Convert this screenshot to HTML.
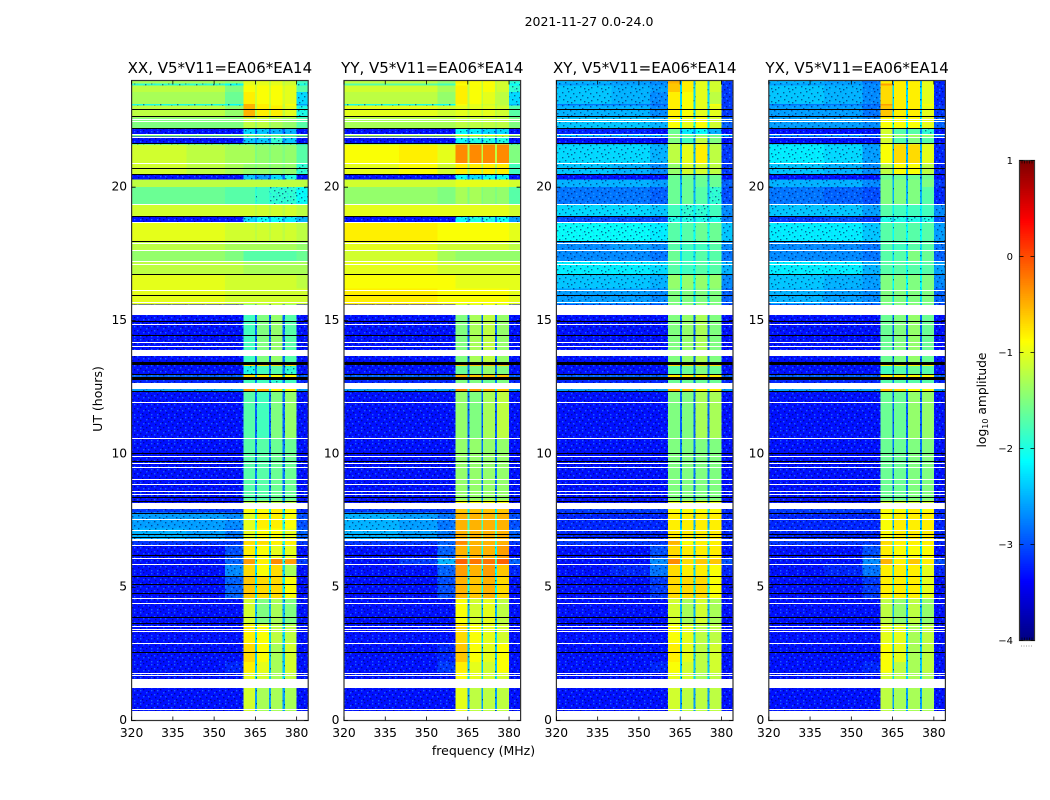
<!DOCTYPE html>
<html lang="en">
<head>
<meta charset="utf-8">
<title>2021-11-27 0.0-24.0</title>
<style>
html,body{margin:0;padding:0;background:#fff;}
svg{display:block;font-family:"DejaVu Sans","Liberation Sans",sans-serif;fill:#000;}
</style>
</head>
<body>
<svg id="figure" xmlns="http://www.w3.org/2000/svg" width="1050" height="800" viewBox="0 0 1050 800">
  <defs>
    <pattern id="speckle" patternUnits="userSpaceOnUse" width="17" height="13">
      <g fill="#000050" fill-opacity="0.55">
        <rect x="1" y="1" width="1.4" height="1.4"/><rect x="7" y="0" width="1.4" height="1.4"/><rect x="12" y="2" width="1.4" height="1.4"/>
        <rect x="4" y="4" width="1.4" height="1.4"/><rect x="15" y="5" width="1.4" height="1.4"/><rect x="9" y="6" width="1.4" height="1.4"/>
        <rect x="2" y="8" width="1.4" height="1.4"/><rect x="13" y="9" width="1.4" height="1.4"/><rect x="6" y="10" width="1.4" height="1.4"/><rect x="10" y="11" width="1.4" height="1.4"/>
      </g>
      <g fill="#30b0ff" fill-opacity="0.5">
        <rect x="4" y="1" width="1.4" height="1.4"/><rect x="10" y="3" width="1.4" height="1.4"/><rect x="15" y="1" width="1.4" height="1.4"/>
        <rect x="1" y="5" width="1.4" height="1.4"/><rect x="7" y="7" width="1.4" height="1.4"/><rect x="12" y="7" width="1.4" height="1.4"/>
        <rect x="4" y="11" width="1.4" height="1.4"/><rect x="15" y="11" width="1.4" height="1.4"/>
      </g>
    </pattern>
  </defs>
  <rect x="0" y="0" width="1050" height="800" fill="#fff"/>
  <text x="589" y="26" font-size="12.5" text-anchor="middle">2021-11-27 0.0-24.0</text>
  <text x="483.5" y="755" font-size="12.5" text-anchor="middle">frequency (MHz)</text>
  <text transform="translate(102,399) rotate(-90)" font-size="12.5" text-anchor="middle">UT (hours)</text>
  <text transform="translate(986,400) rotate(-90)" font-size="12.3" text-anchor="middle">log<tspan font-size="8" dy="2">10</tspan><tspan dy="-2"> amplitude</tspan></text>
  <g id="panels"></g>
  <g id="colorbar"></g>
</svg>
<script>
// Frequency channel groups (MHz) and which value column each group reads.
const freqEdges = [320,340,354,360.6,364.9,365.6,369.9,370.6,374.9,375.7,380,384.2];
const freqColumns = [0,1,2,3,7,4,7,5,7,6,8];
const freqTicks = [320,335,350,365,380];
const hourTicks = [0,5,10,15,20];
const colorTicks = [1,0,-1,-2,-3,-4];
const colorTickLabels = ['1','0','\u22121','\u22122','\u22123','\u22124'];
const panelTitles = ['XX, V5*V11=EA06*EA14','YY, V5*V11=EA06*EA14','XY, V5*V11=EA06*EA14','YX, V5*V11=EA06*EA14'];

// Time sections, hours from the top of the plot down.
const hourEdges = [24,23.88,23.81,23.56,23.12,23.06,22.62,22.225,22,21.9,21.66,21.6,20.9,20.5,20.29,20,19.375,18.9,18.7,17.98,17.65,17.2,16.75,16.2,15.6,13.44,13.3,12.97,12.85,12.44,12.34,10.6,8.25,7.95,7.8,7.2,6.75,6.6,6.1,5.86,5.42,4.6,3.6,2.9,2.2,1.8,1.22,0];

// Hours with no data (white) and flagged lines (black).
const gapStart = [22.56,22.5,22,21.9,20.9,19.375,18.69,17.9,17.65,17.225,17.125,16.15,15.69,15.6,14.86,14.175,14.06,13.91,13.85,12.65,11.96,10.6,9.92,9.64,9.52,9.06,8.86,8.61,8.5,8.16,7.55,7.15,6.81,6.59,6.09,5.86,4.58,4.39,3.55,3.44,3.36,2.91,1.78,1.7,1.54,0.45,0.34];
const gapEnd =   [22.52,22.46,21.96,21.86,20.86,19.335,18.65,17.86,17.61,17.185,17.085,16.11,15.65,15.22,14.82,14.135,14.02,13.87,13.65,12.44,11.92,10.56,9.88,9.6,9.48,9.02,8.82,8.57,8.46,7.95,7.51,7.11,6.75,6.55,6.05,5.82,4.54,4.35,3.51,3.4,3.32,2.87,1.74,1.66,1.22,0.41,0];
const flagStart = [22.95,22.67,22.235,21.67,20.735,20.51,18.91,17.985,16.76,15.97,14.99,14.46,13.44,12.99,12.9,12.34,10.03,9.75,8.39,8.22,7.79,6.99,6.9,6.21,5.42,5.11,4.79,3.89,3.64,2.58];
const flagEnd =   [22.925,22.645,22.21,21.645,20.71,20.485,18.885,17.96,16.735,15.945,14.965,14.435,13.32,12.965,12.8,12.315,10.005,9.725,8.34,8.195,7.765,6.965,6.875,6.185,5.395,5.085,4.765,3.865,3.615,2.555];

// log10 amplitude x10, one line per time section.
// Columns: 320-340, 340-354, 354-360, band A, band B, band C, band D, notches, above 380.
const xxValues = [
[-13,-13,-14,-10,-10,-10,-11,-12,-18],[-19,-19,-21,-10,-10,-10,-11,-12,-20],[-12,-12,-15,-9,-9,-9,-10,-11,-17],[-13,-13,-16,-8,-9,-9,-10,-11,-23],[-20,-20,-21,-5,-8,-9,-9,-12,-26],
[-12,-12,-14,-5,-8,-8,-10,-12,-20],[-15,-15,-15,-12,-12,-13,-14,-14,-17],[-33,-33,-33,-23,-24,-25,-25,-29,-33],[-15,-15,-15,-14,-15,-15,-15,-15,-15],[-33,-33,-33,-24,-24,-19,-24,-27,-33],
[-21,-21,-21,-19,-19,-20,-21,-23,-25],[-11,-12,-13,-13,-14,-14,-14,-15,-17],[-11,-12,-13,-14,-14,-14,-14,-15,-19],[-33,-33,-33,-24,-26,-23,-20,-29,-33],[-12,-12,-12,-12,-12,-12,-12,-12,-12],
[-16,-16,-17,-17,-18,-19,-19,-19,-21],[-11,-11,-11,-11,-11,-11,-11,-12,-12],[-33,-33,-33,-23,-21,-21,-22,-25,-25],[-10,-10,-11,-11,-11,-11,-11,-12,-12],[-12,-12,-13,-13,-13,-13,-13,-13,-14],
[-14,-14,-15,-17,-17,-17,-17,-17,-16],[-12,-12,-12,-13,-13,-13,-13,-13,-13],[-10,-10,-11,-11,-11,-11,-11,-11,-12],[-10,-10,-11,-11,-11,-11,-11,-11,-11],[-33,-33,-33,-18,-15,-14,-17,-29,-33],
[-33,-33,-33,-7,-7,-7,-7,-29,-33],[-33,-33,-33,-20,-18,-17,-19,-28,-33],[-29,-29,-29,-7,-8,-9,-9,-24,-29],[-32,-32,-32,-18,-18,-19,-18,-28,-32],[-26,-26,-26,-4,-5,-8,-9,-20,-26],
[-33,-33,-33,-17,-18,-15,-14,-29,-33],[-33,-33,-33,-17,-17,-16,-16,-28,-33],[-33,-33,-33,-12,-12,-12,-12,-25,-33],[-31,-31,-31,-9,-9,-8,-9,-22,-32],[-26,-26,-27,-10,-8,-8,-9,-20,-30],
[-25,-26,-28,-10,-9,-9,-10,-18,-29],[-31,-31,-31,-7,-7,-8,-8,-20,-31],[-33,-33,-30,-8,-9,-10,-10,-23,-33],[-33,-33,-29,-4,-8,-3,-4,-20,-31],[-33,-33,-27,-7,-9,-7,-13,-23,-33],
[-33,-33,-29,-6,-7,-7,-9,-22,-33],[-33,-33,-33,-11,-15,-13,-15,-25,-33],[-33,-33,-33,-8,-9,-12,-12,-23,-33],[-33,-33,-33,-7,-9,-13,-11,-24,-33],[-33,-33,-32,-8,-10,-13,-11,-24,-33],
[-33,-33,-33,-10,-11,-13,-12,-23,-33],[-33,-33,-33,-11,-13,-13,-13,-26,-33]
];
const yyValues = [
[-12,-12,-14,-8,-9,-9,-11,-12,-19],[-17,-17,-18,-9,-9,-9,-11,-12,-21],[-11,-11,-13,-8,-9,-9,-11,-12,-19],[-12,-12,-14,-8,-9,-10,-12,-12,-23],[-20,-20,-21,-9,-10,-11,-12,-13,-25],
[-10,-10,-11,-10,-10,-10,-11,-12,-17],[-13,-13,-13,-12,-12,-12,-12,-13,-15],[-33,-33,-33,-21,-22,-23,-23,-27,-33],[-13,-13,-13,-10,-10,-10,-10,-12,-13],[-33,-33,-33,-21,-20,-20,-20,-27,-33],
[-17,-17,-18,-13,-13,-13,-13,-14,-21],[-9,-8,-10,-3,-3,-3,-3,-12,-15],[-10,-9,-11,-8,-8,-8,-8,-13,-18],[-33,-33,-33,-21,-23,-21,-21,-28,-33],[-11,-11,-11,-10,-10,-10,-10,-10,-11],
[-14,-14,-15,-13,-13,-14,-14,-15,-17],[-10,-10,-10,-10,-10,-10,-10,-10,-11],[-33,-33,-33,-21,-20,-20,-21,-27,-26],[-8,-8,-9,-9,-9,-9,-9,-9,-10],[-10,-10,-11,-11,-11,-11,-11,-11,-12],
[-11,-11,-13,-14,-14,-14,-14,-14,-14],[-10,-10,-11,-11,-11,-11,-11,-11,-11],[-9,-9,-9,-10,-10,-10,-10,-10,-10],[-8,-8,-9,-9,-9,-9,-9,-9,-10],[-33,-33,-33,-15,-13,-12,-14,-29,-33],
[-33,-33,-33,-6,-6,-6,-6,-29,-33],[-33,-33,-33,-16,-15,-14,-15,-28,-33],[-29,-29,-29,-5,-6,-6,-6,-24,-29],[-32,-32,-32,-15,-15,-16,-15,-28,-32],[-26,-26,-26,-3,-4,-5,-6,-20,-26],
[-33,-33,-33,-14,-15,-13,-12,-29,-33],[-33,-33,-33,-14,-14,-14,-14,-28,-33],[-33,-33,-33,-9,-9,-9,-9,-25,-33],[-31,-31,-31,-6,-6,-6,-6,-22,-32],[-25,-26,-28,-5,-5,-5,-5,-18,-30],
[-25,-26,-28,-5,-5,-5,-5,-17,-29],[-31,-31,-29,-3,-5,-5,-5,-18,-31],[-33,-33,-29,-5,-5,-5,-4,-21,-33],[-33,-31,-25,-1,-2,-2,-1,-18,-29],[-33,-33,-29,-4,-5,-4,-6,-21,-32],
[-33,-33,-30,-5,-6,-5,-7,-21,-33],[-33,-33,-33,-9,-11,-10,-12,-25,-33],[-33,-33,-33,-7,-9,-10,-11,-23,-33],[-33,-33,-32,-6,-9,-10,-9,-24,-33],[-33,-33,-31,-8,-10,-11,-9,-24,-33],
[-33,-33,-33,-9,-10,-11,-11,-23,-33],[-33,-33,-33,-10,-12,-12,-12,-26,-33]
];
const xyValues = [
[-25,-26,-27,-5,-8,-10,-11,-25,-31],[-26,-26,-27,-6,-8,-10,-11,-25,-31],[-24,-25,-26,-6,-8,-10,-11,-23,-31],[-24,-25,-27,-8,-9,-10,-12,-23,-31],[-28,-28,-29,-8,-9,-10,-9,-23,-31],
[-25,-25,-27,-8,-9,-10,-10,-23,-31],[-24,-24,-25,-9,-10,-9,-11,-21,-29],[-32,-32,-33,-16,-22,-21,-25,-27,-33],[-23,-23,-24,-14,-15,-15,-16,-19,-24],[-33,-33,-33,-15,-18,-12,-15,-27,-33],
[-26,-26,-27,-12,-14,-12,-14,-25,-31],[-23,-23,-25,-12,-10,-8,-12,-25,-31],[-24,-25,-27,-14,-11,-11,-12,-25,-31],[-33,-33,-33,-16,-16,-16,-16,-27,-33],[-25,-25,-26,-16,-16,-16,-16,-25,-29],
[-28,-28,-29,-16,-16,-17,-19,-25,-30],[-23,-23,-24,-18,-19,-19,-18,-22,-27],[-30,-30,-30,-20,-20,-20,-20,-25,-28],[-21,-21,-22,-17,-17,-16,-16,-21,-24],[-27,-26,-27,-17,-18,-18,-17,-23,-27],
[-27,-27,-28,-16,-18,-17,-17,-23,-28],[-22,-22,-23,-17,-18,-17,-17,-21,-25],[-24,-24,-25,-14,-14,-14,-14,-21,-27],[-26,-26,-27,-15,-15,-15,-15,-23,-29],[-33,-33,-33,-15,-14,-13,-15,-29,-33],
[-33,-33,-33,-7,-7,-7,-7,-29,-33],[-33,-33,-33,-17,-16,-15,-16,-28,-33],[-29,-29,-29,-8,-8,-8,-8,-24,-29],[-32,-32,-32,-16,-16,-16,-16,-28,-32],[-26,-26,-26,-5,-6,-8,-8,-20,-26],
[-33,-33,-33,-15,-15,-13,-13,-29,-33],[-33,-33,-33,-15,-15,-15,-15,-28,-33],[-33,-33,-33,-10,-10,-10,-10,-25,-33],[-31,-31,-31,-9,-9,-9,-9,-22,-32],[-32,-32,-32,-8,-8,-8,-8,-25,-32],
[-32,-32,-32,-8,-8,-8,-8,-23,-32],[-31,-31,-31,-5,-9,-8,-8,-20,-32],[-33,-33,-30,-7,-8,-8,-8,-23,-33],[-33,-33,-27,-3,-7,-6,-6,-20,-30],[-33,-32,-28,-7,-8,-8,-9,-23,-32],
[-33,-33,-31,-7,-7,-7,-9,-22,-33],[-33,-33,-33,-11,-13,-11,-13,-25,-33],[-33,-33,-33,-9,-10,-12,-12,-23,-33],[-33,-33,-33,-8,-10,-12,-11,-24,-33],[-33,-33,-32,-9,-11,-12,-11,-24,-33],
[-33,-33,-33,-10,-11,-13,-12,-23,-33],[-33,-33,-33,-11,-12,-12,-12,-26,-33]
];
const yxValues = [
[-25,-26,-28,-8,-8,-8,-10,-25,-32],[-26,-26,-27,-4,-8,-8,-10,-25,-32],[-24,-25,-27,-7,-8,-8,-10,-23,-32],[-24,-25,-27,-7,-8,-8,-10,-23,-32],[-28,-28,-29,-4,-8,-8,-9,-23,-32],
[-26,-26,-28,-6,-8,-8,-10,-23,-31],[-26,-26,-27,-9,-9,-9,-10,-21,-29],[-33,-33,-33,-11,-17,-17,-19,-27,-33],[-26,-25,-27,-11,-13,-13,-13,-19,-27],[-33,-33,-33,-11,-17,-15,-17,-27,-33],
[-25,-26,-28,-11,-11,-11,-12,-25,-31],[-22,-23,-26,-9,-7,-7,-10,-25,-32],[-24,-25,-27,-12,-9,-9,-12,-25,-32],[-33,-33,-33,-16,-16,-16,-16,-27,-33],[-25,-25,-27,-15,-15,-15,-15,-25,-31],
[-28,-29,-30,-15,-15,-15,-17,-25,-32],[-24,-24,-26,-17,-18,-18,-18,-22,-27],[-31,-30,-31,-20,-20,-20,-20,-25,-30],[-22,-22,-24,-17,-17,-17,-17,-21,-26],[-27,-27,-28,-17,-18,-17,-17,-23,-28],
[-27,-27,-28,-17,-17,-15,-16,-23,-29],[-22,-22,-25,-17,-17,-17,-17,-21,-26],[-24,-25,-26,-15,-15,-15,-15,-21,-27],[-25,-26,-27,-15,-15,-15,-15,-23,-29],[-33,-33,-33,-16,-15,-14,-16,-29,-33],
[-33,-33,-33,-8,-8,-8,-8,-29,-33],[-33,-33,-33,-18,-17,-16,-17,-28,-33],[-29,-29,-29,-8,-8,-9,-9,-24,-29],[-32,-32,-32,-17,-17,-17,-17,-28,-32],[-26,-26,-26,-6,-7,-9,-9,-20,-26],
[-33,-33,-33,-16,-16,-14,-14,-29,-33],[-33,-33,-33,-16,-16,-15,-15,-28,-33],[-33,-33,-33,-11,-11,-11,-11,-25,-33],[-31,-31,-31,-9,-9,-8,-9,-22,-32],[-32,-32,-32,-9,-8,-8,-8,-25,-32],
[-32,-32,-32,-9,-8,-8,-8,-23,-32],[-31,-31,-31,-7,-8,-8,-8,-20,-32],[-33,-33,-30,-8,-9,-9,-9,-23,-33],[-33,-33,-27,-5,-8,-6,-8,-20,-30],[-33,-32,-28,-8,-8,-8,-10,-23,-32],
[-33,-33,-31,-8,-8,-8,-10,-22,-33],[-33,-33,-33,-12,-14,-12,-14,-25,-33],[-33,-33,-33,-10,-10,-13,-12,-23,-33],[-33,-33,-33,-9,-10,-13,-12,-24,-33],[-33,-33,-32,-9,-12,-13,-12,-24,-33],
[-33,-33,-33,-11,-12,-13,-13,-23,-33],[-33,-33,-33,-12,-13,-13,-13,-26,-33]
];
const panelValues = [xxValues, yyValues, xyValues, yxValues];

const NS = 'http://www.w3.org/2000/svg';
const PLOT_TOP = 80.5, PLOT_BOTTOM = 720.5, PLOT_WIDTH = 176.6;
const NOISY_BELOW = -1.8;
const panelLeft = i => 131.6 + i * 212.4;
const freqX = (left, mhz) => left + (mhz - freqEdges[0]) / (freqEdges[freqEdges.length - 1] - freqEdges[0]) * PLOT_WIDTH;
const hourY = h => PLOT_BOTTOM - h / 24 * (PLOT_BOTTOM - PLOT_TOP);

function clamp01(v) { return Math.max(0, Math.min(1, v)); }
function jet(t) {
  const r = clamp01(Math.min(4 * t - 1.5, -4 * t + 4.5));
  const g = clamp01(Math.min(4 * t - 0.5, -4 * t + 3.5));
  const b = clamp01(Math.min(4 * t + 0.5, -4 * t + 2.5));
  return 'rgb(' + Math.round(r * 255) + ',' + Math.round(g * 255) + ',' + Math.round(b * 255) + ')';
}
const logColor = v => jet((v + 4) / 5);

function el(parent, tag, attrs) {
  const node = document.createElementNS(NS, tag);
  for (const key in attrs) node.setAttribute(key, attrs[key]);
  parent.appendChild(node);
  return node;
}

const panelsRoot = document.getElementById('panels');
panelTitles.forEach(function (title, p) {
  const left = panelLeft(p);
  const right = left + PLOT_WIDTH;
  const key = title.slice(0, 2).toLowerCase();
  const g = el(panelsRoot, 'g', {});
  
  

  const cells = el(g, 'g', { 'shape-rendering': 'crispEdges' });
  
  
  panelValues[p].forEach(function (row, r) {
    const y0 = hourY(hourEdges[r]);
    const y1 = hourY(hourEdges[r + 1]);
    freqColumns.forEach(function (column, c) {
      const x0 = freqX(left, freqEdges[c]);
      const x1 = freqX(left, freqEdges[c + 1]);
      const v = row[column] / 10;
      const cell = el(cells, 'rect', { x: x0, y: y0, width: x1 - x0, height: y1 - y0, fill: logColor(v) });
      
      
      if (v < NOISY_BELOW) {
        const grain = el(cells, 'rect', { x: x0, y: y0, width: x1 - x0, height: y1 - y0, fill: 'url(#speckle)' });
        
        
      }
    });
  });

  const lines = el(g, 'g', { 'shape-rendering': 'crispEdges' });
  
  
  gapStart.forEach(function (start, i) {
    const y0 = Math.round(hourY(start));
    const h = Math.max(1, Math.round(hourY(gapEnd[i]) - hourY(start)));
    const gap = el(lines, 'rect', { x: left, y: y0, width: PLOT_WIDTH, height: h, fill: '#fff' });
    
    
  });
  flagStart.forEach(function (start, i) {
    const y0 = Math.round(hourY(start));
    const h = Math.max(1, Math.round(hourY(flagEnd[i]) - hourY(start)));
    const line = el(lines, 'rect', { x: left, y: y0, width: PLOT_WIDTH, height: h, fill: '#000' });
    
    
  });

  const frame = el(g, 'rect', { x: left, y: PLOT_TOP, width: PLOT_WIDTH, height: PLOT_BOTTOM - PLOT_TOP, fill: 'none', stroke: '#333', 'stroke-width': 1.2 });
  
  

  freqTicks.forEach(function (mhz) {
    const x = freqX(left, mhz);
    const marks = el(g, 'path', { d: 'M' + x + ' ' + PLOT_BOTTOM + 'v-4M' + x + ' ' + PLOT_TOP + 'v4', stroke: '#000', 'stroke-width': 0.8, fill: 'none' });
    
    
    const label = el(g, 'text', { x: x, y: 737, 'font-size': 12.3, 'text-anchor': 'middle' });
    
    
    label.textContent = mhz;
  });
  hourTicks.forEach(function (h) {
    const y = hourY(h);
    const marks = el(g, 'path', { d: 'M' + left + ' ' + y + 'h4M' + right + ' ' + y + 'h-4', stroke: '#000', 'stroke-width': 0.8, fill: 'none' });
    
    
    const label = el(g, 'text', { x: left - 4.5, y: y + 3.5, 'font-size': 12.3, 'text-anchor': 'end' });
    
    
    label.textContent = h;
  });

  const heading = el(g, 'text', { x: left + PLOT_WIDTH / 2, y: 73, 'font-size': 15, 'text-anchor': 'middle' });
  
  
  heading.textContent = title;
});

// Colorbar
const CB_LEFT = 1019.5, CB_RIGHT = 1034.5, CB_TOP = 160.5, CB_BOTTOM = 640.5;
const colorY = v => CB_BOTTOM - (v + 4) / 5 * (CB_BOTTOM - CB_TOP);
const cbRoot = document.getElementById('colorbar');
const cbFill = el(cbRoot, 'g', { 'shape-rendering': 'crispEdges' });


for (let i = 0; i < 256; i++) {
  const top = colorY(-4 + (i + 1) / 256 * 5);
  const bottom = colorY(-4 + i / 256 * 5);
  const step = el(cbFill, 'rect', { x: CB_LEFT, y: top, width: CB_RIGHT - CB_LEFT, height: bottom - top + 0.6, fill: jet((i + 0.5) / 256) });
  
  
}
const cbFrame = el(cbRoot, 'rect', { x: CB_LEFT, y: CB_TOP, width: CB_RIGHT - CB_LEFT, height: CB_BOTTOM - CB_TOP, fill: 'none', stroke: '#333', 'stroke-width': 1.2 });


colorTicks.forEach(function (v, i) {
  const y = colorY(v);
  const marks = el(cbRoot, 'path', { d: 'M' + CB_LEFT + ' ' + y + 'h4M' + CB_RIGHT + ' ' + y + 'h-4', stroke: '#000', 'stroke-width': 0.8, fill: 'none' });
  
  
  const label = el(cbRoot, 'text', { x: 1013, y: y + 3.5, 'font-size': 10, 'text-anchor': 'end' });
  
  
  label.textContent = colorTickLabels[i];
});
for (let i = 0; i < 5; i++) {
  const x = CB_LEFT + 2.5 + i * 2.5;
  const upper = el(cbRoot, 'path', { d: 'M' + x + ' ' + CB_TOP + 'v3M' + x + ' ' + CB_BOTTOM + 'v-3', stroke: '#000', 'stroke-width': 0.6, fill: 'none' });
  
  
  const dot = el(cbRoot, 'rect', { x: x - 1, y: 645.5, width: 1, height: 1, fill: '#999' });
  
  
}
</script>
</body>
</html>
